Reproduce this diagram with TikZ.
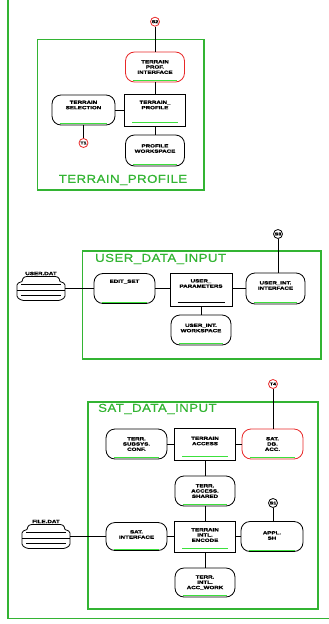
\documentclass[tikz,border=0pt]{standalone}
\usepackage{fontspec}
\setmainfont{Liberation Sans}
\newfontfamily\lblfont[FakeStretch=1.35,FakeBold=1.2]{Liberation Sans}
\newfontfamily\titlefont[FakeStretch=1.15,LetterSpace=4,FakeBold=0.6]{Liberation Sans}
\usetikzlibrary{calc}
\definecolor{fg}{RGB}{51,180,51}
\definecolor{ulc}{RGB}{60,225,60}
\definecolor{rd}{RGB}{232,40,40}
\newcommand\rbx[8]{%
  \node[shp, rounded corners=9pt, #2, minimum width=#5pt, minimum height=#6pt] (#1) at (#3,#4) {};
  \draw[ulg] ($(#1.south west)+(8,-1.8)$) -- ($(#1.south east)+(-8,-1.8)$);
  \node[lbl] (#1-t) at ($(#1.center)+(0,#8)$) {#7};}
\newcommand\sbx[9]{%
  \node[shp, line width=1pt, #2, minimum width=#5pt, minimum height=#6pt] (#1) at (#3,#4) {};
  \draw[ulg, draw=#9] ($(#1.south west)+(8,-4)$) -- ($(#1.south east)+(-8,-4)$);
  \node[lbl] (#1-t) at ($(#1.center)+(0,#8)$) {#7};}
\newcommand\dbs[4]{%
  \begin{scope}[shift={(#2,#3)}]
    \node[inner sep=0pt, minimum width=48pt, minimum height=22pt] (#1) at (0,0) {};
    \draw[wire, rounded corners=1.5pt] (-19,-7) -- (-24,-5) -- (-24,9) -- (-19,12) -- (19,12) -- (24,9) -- (24,-5) -- (19,-7);
    \draw[wire] (-19,-7) .. controls (-18,-12) and (-16,-12) .. (-12,-12) -- (12,-12) .. controls (16,-12) and (18,-12) .. (19,-7);
    \draw[wire] (-20,-4) -- (20,-4);
    \draw[wire] (-24,2) -- (24,2);
    \draw[wire] (-20,7) -- (20,7);
    \node[lbl] (#1-l) at (0,-15) {#4};
  \end{scope}}
\begin{document}
\begin{tikzpicture}[x=1pt,y=-1pt,
  lbl/.style={font=\lblfont\fontsize{4.6}{5.3}\selectfont\bfseries, align=center, inner sep=0pt},
  shp/.style={draw=black, line width=0.8pt, inner sep=0pt},
  redn/.style={draw=rd},
  conn/.style={circle, draw=rd, line width=0.8pt, minimum size=9pt, inner sep=0pt,
    font=\lblfont\fontsize{4}{4.5}\selectfont\bfseries},
  frame/.style={draw=fg, line width=1.3pt},
  title/.style={text=fg, font=\titlefont\fontsize{11.5}{12}\selectfont, inner sep=0pt},
  wire/.style={draw=black, line width=0.8pt},
  ulg/.style={draw=ulc, line width=1.2pt}]
\useasboundingbox (0,0) rectangle (329,624);
% outer frame
\draw[frame] (8,0) -- (8,618.5) -- (329,618.5);

% ---------------- TERRAIN_PROFILE ----------------
\draw[frame] (37.7,39.3) rectangle (204,190);
\node[title, anchor=center] (t1) at (123,180) {TERRAIN\_PROFILE};
\node[conn] (c1) at (155,21.7) {S2};
\rbx{tpi}{redn}{155}{67}{59}{30}{TERRAIN\\PROF.\\INTERFACE}{0}
\sbx{tp}{}{155}{110}{61}{32}{TERRAIN\_\\PROFILE}{-5}{ulc}
\rbx{ts}{}{83.5}{110}{63}{30}{TERRAIN\\SELECTION}{-5}
\rbx{pl}{}{155}{150.5}{59}{31}{PROFILE\\WORKSPACE}{-2}
\node[conn] (c2) at (83.5,143) {T1};
\draw[wire] (c1) -- (c1 |- tpi.north);
\draw[wire] (tpi) -- (tp);
\draw[wire] (tp) -- (pl);
\draw[wire] (ts.east) -- (tp.west);
\draw[wire] (ts.south) -- (c2);

% ---------------- USER_DATA_INPUT ----------------
\draw[frame] (82.7,251) rectangle (321,359);
\node[title, anchor=west] (t2) at (95,259) {USER\_DATA\_INPUT};
\dbs{db1}{41}{288.5}{USER.DAT}
\rbx{es}{}{124.5}{288.5}{61}{30}{EDIT\_SET}{-7}
\sbx{up}{}{201}{289.5}{62}{33}{USER\_\\PARAMETERS}{-6}{black}
\rbx{ui}{}{275.5}{288.5}{59}{31}{USER\_INT.\\INTERFACE}{-3}
\rbx{uw}{}{201}{330}{60}{30}{USER\_INT.\\WORKSPACE}{-2}
\node[conn, draw=black] (c3) at (278,234) {S3};
\draw[wire] (db1.east) -- (es.west);
\draw[wire] (es.east) -- (es.east -| up.west);
\draw[wire] (up.east |- ui.west) -- (ui.west);
\draw[wire] (up.south) -- (up.south |- uw.north);
\draw[wire] (c3) -- (c3 |- ui.north);

% ---------------- SAT_DATA_INPUT ----------------
\draw[frame] (88,402) rectangle (318,609);
\node[title, anchor=west] (t3) at (98,409) {SAT\_DATA\_INPUT};
\node[conn] (c4) at (273,384) {T4};
\rbx{tsc}{}{136.5}{444}{61}{30}{TERR.\\SUBSYS.\\CONF.}{0}
\sbx{ta}{}{205}{444}{61}{32}{TERRAIN\\ACCESS}{-3}{ulc}
\rbx{sda}{redn}{272.5}{444}{61}{30}{SAT.\\DB.\\ACC.}{0}
\rbx{tas}{}{205}{491}{60}{30}{TERR.\\ACCESS.\\SHARED}{0}
\dbs{db2}{46}{536.5}{FILE.DAT}
\rbx{si}{}{136.5}{536.5}{61}{28}{SAT.\\INTERFACE}{-2}
\sbx{tde}{}{205}{536.5}{61}{31}{TERRAIN\\INTL.\\ENCODE}{-1.5}{ulc}
\rbx{ash}{}{272}{536.5}{62}{30}{APPL.\\SH}{-1}
\node[conn, draw=black] (c5) at (273,503) {S1};
\rbx{tdw}{}{205}{582.5}{60}{29}{TERR.\\INTL.\\ACC\_WORK}{0}
\draw[wire] (c4) -- (c4 |- sda.north);
\draw[wire] (tsc.east) -- (ta.west);
\draw[wire] (ta.east) -- (sda.west);
\draw[wire] (ta.south) -- (tas.north);
\draw[wire] (tas.south) -- (tde.north);
\draw[wire] (db2.east) -- (si.west);
\draw[wire] (si.east) -- (tde.west);
\draw[wire] (tde.east) -- (ash.west);
\draw[wire] (tde.south) -- (tdw.north);
\draw[wire] (c5) -- (c5 |- ash.north);
\end{tikzpicture}
\end{document}
